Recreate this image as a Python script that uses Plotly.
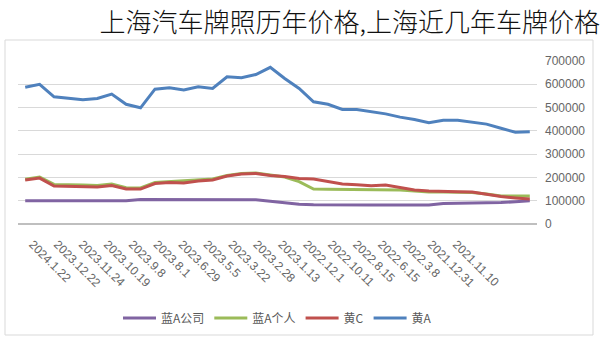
import numpy as np
import plotly.graph_objects as go

# Tick labels (as shown, left -> right)
date_labels = ["2024.1.22", "2023.12.22", "2023.11.24", "2023.10.19", "2023.9.8", "2023.8.1",
               "2023.6.29", "2023.5.5", "2023.3.22", "2023.2.28", "2023.1.13", "2022.12.1",
               "2022.10.11", "2022.8.15", "2022.6.15", "2022.3.8", "2021.12.31", "2021.11.10"]

# Series values, one per observation, left -> right as drawn
huang_a = [587000, 600000, 546000, 541000, 534000, 539000, 558000, 514000, 499000, 579000,
           585000, 576000, 589000, 582000, 632000, 628000, 642000, 673000, 625000, 582000,
           525000, 514000, 492000, 492000, 482000, 473000, 459000, 449000, 435000, 446000,
           446000, 439000, 429000, 411000, 394000, 396000]
huang_c = [189000, 197000, 163000, 161000, 159000, 159000, 165000, 150000, 150000, 174000,
           178000, 176000, 185000, 189000, 206000, 215000, 217000, 208000, 204000, 195000,
           193000, 182000, 172000, 169000, 164000, 167000, 155000, 146000, 142000, 139000,
           139000, 137000, 127000, 118000, 112000, 107000]
lan_a_personal = [192000, 202000, 170000, 167000, 167000, 165000, 172000, 156000, 155000, 178000,
                  182000, 183000, 189000, 193000, 208000, 217000, 219000, 212000, 202000, 182000,
                  150000, 149000, 149000, 149000, 149000, 149000, 146000, 142000, 137000, 137000,
                  136000, 135000, 129000, 120000, 120000, 120000]
lan_a_company = [100000, 100000, 100000, 100000, 100000, 100000, 100000, 100000, 105000, 105000,
                 105000, 105000, 105000, 105000, 105000, 105000, 104000, 98000, 90000, 85000,
                 83000, 82000, 82000, 82000, 82000, 82000, 82000, 80000, 82000, 88000,
                 89000, 90000, 90000, 92000, 96000, 100000]

y_ticks = [0, 100000, 200000, 300000, 400000, 500000, 600000, 700000]

n = len(huang_a)
x = np.arange(n)

fig = go.Figure()
series = [
    ("蓝A公司", lan_a_company, "#8064A2"),
    ("蓝A个人", lan_a_personal, "#9BBB59"),
    ("黄C", huang_c, "#C0504D"),
    ("黄A", huang_a, "#4F81BD"),
]
for name, vals, col in series:
    fig.add_trace(go.Scatter(x=x, y=vals, mode="lines", name=name,
                             line=dict(color=col, width=3)))

tickvals = np.linspace(0.5, 29.9, len(date_labels))

fig.update_layout(
    width=600, height=341,
    margin=dict(l=18, r=63, t=61, b=117, autoexpand=False),
    paper_bgcolor="white", plot_bgcolor="white",
    font=dict(family="Liberation Sans, Arial, sans-serif", color="#595959", size=12),
    title=dict(text="上海汽车牌照历年价格,上海近几年车牌价格",
               font=dict(family="Noto Sans CJK SC", size=26, color="#111111", weight=300),
               x=1.0, xanchor="right", xref="container",
               y=1 - 23 / 341, yanchor="middle", yref="container"),
    showlegend=True,
    legend=dict(orientation="h", x=0.5, xanchor="center", y=-(318 - 224) / 163, yanchor="middle",
                font=dict(size=12, color="#595959", family="Noto Sans CJK SC"),
                traceorder="normal", itemwidth=33),
    xaxis=dict(range=[-0.5, n - 0.5], tickmode="array", tickvals=tickvals,
               ticktext=date_labels, tickangle=45, showgrid=False, zeroline=False,
               showline=False, ticks="", ticklabelstandoff=10, automargin=False,
               tickfont=dict(size=12, color="#666666")),
    yaxis=dict(side="right", range=[0, 700000], tickvals=y_ticks,
               ticktext=[str(v) for v in y_ticks], automargin=False,
               showgrid=True, gridcolor="#D9D9D9", gridwidth=1, zeroline=True,
               zerolinecolor="#BFBFBF", zerolinewidth=1.5, ticks="",
               tickfont=dict(size=12, color="#666666"), ticklabelstandoff=7),
    shapes=[dict(type="rect", xref="paper", yref="paper",
                 x0=-13 / 519, x1=1 + 56 / 519,
                 y0=(224 - 335) / 163, y1=(224 - 40) / 163,
                 line=dict(color="#D9D9D9", width=1), layer="below")],
)

fig.write_html("out.html")
